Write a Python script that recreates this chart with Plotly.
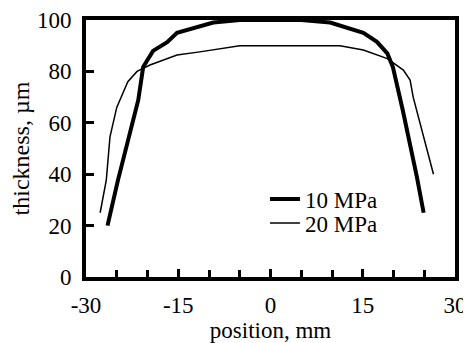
import plotly.graph_objects as go

x10 = [-26.5, -24.8, -21.5, -20.7, -19.1, -16.8, -15.2, -9.3, -5, 0, 5, 9.7, 15.1, 17.3, 19.0, 19.9, 21.5, 23.8, 24.9]
y10 = [20, 37.7, 68.9, 81.7, 88, 91.4, 95, 99, 100, 100, 100, 99, 95, 91.5, 87, 81.7, 65, 39, 25]
x20 = [-27.7, -26.7, -26.1, -25.0, -23.2, -21.7, -19.6, -15.2, -11.5, -5, 0, 5, 11.3, 15.1, 19.0, 21.6, 22.7, 23.2, 26.5]
y20 = [25, 37.7, 54.5, 66, 76, 80, 82.5, 86.4, 87.6, 90, 90, 90, 90, 88.3, 85, 80.5, 76.6, 70, 40]

x_tickvals = [-30, -15, 0, 15, 30]
x_ticktext = ["-30", "-15", "0", "15", "30"]
y_tickvals = [0, 20, 40, 60, 80, 100]
y_ticktext = ["0", "20", "40", "60", "80", "100"]

FONT = "Liberation Serif"

fig = go.Figure()
fig.add_trace(go.Scatter(x=x10, y=y10, mode="lines", name="10 MPa", legend="legend",
                         line=dict(color="black", width=4)))
fig.add_trace(go.Scatter(x=x20, y=y20, mode="lines", name="20 MPa", legend="legend2",
                         line=dict(color="black", width=1.5)))

leg_common = dict(xanchor="left", yanchor="middle", bgcolor="rgba(0,0,0,0)",
                  font=dict(family=FONT, size=23, color="black"))

fig.update_layout(
    width=463, height=335,
    margin=dict(l=78, r=16, t=12, b=66),
    paper_bgcolor="white", plot_bgcolor="white",
    font=dict(family=FONT, size=23, color="black"),
    showlegend=True,
    legend=dict(x=0.485, y=0.3035, **leg_common),
    legend2=dict(x=0.485, y=0.210, **leg_common),
    xaxis=dict(range=[-30, 30], tickvals=x_tickvals, ticktext=x_ticktext,
               ticks="inside", ticklen=8, tickwidth=3, tickcolor="black",
               minor=dict(dtick=5, ticks="inside", ticklen=7, tickwidth=3, tickcolor="black"),
               showline=True, linewidth=4, linecolor="black", mirror=True,
               showgrid=False, zeroline=False, automargin=False,
               ticklabelstandoff=4, ticklabeloverflow="allow",
               title=dict(text="position, mm", font=dict(family=FONT, size=23), standoff=3),
               tickfont=dict(family=FONT, size=23)),
    yaxis=dict(range=[0, 100], tickvals=y_tickvals, ticktext=y_ticktext,
               ticks="inside", ticklen=8, tickwidth=3, tickcolor="black",
               showline=True, linewidth=4, linecolor="black", mirror=True,
               showgrid=False, zeroline=False, automargin=False,
               ticklabelstandoff=6, ticklabeloverflow="allow",
               title=dict(text="thickness, µm", font=dict(family=FONT, size=24), standoff=12),
               tickfont=dict(family=FONT, size=23)),
)

fig.write_html("out.html")
